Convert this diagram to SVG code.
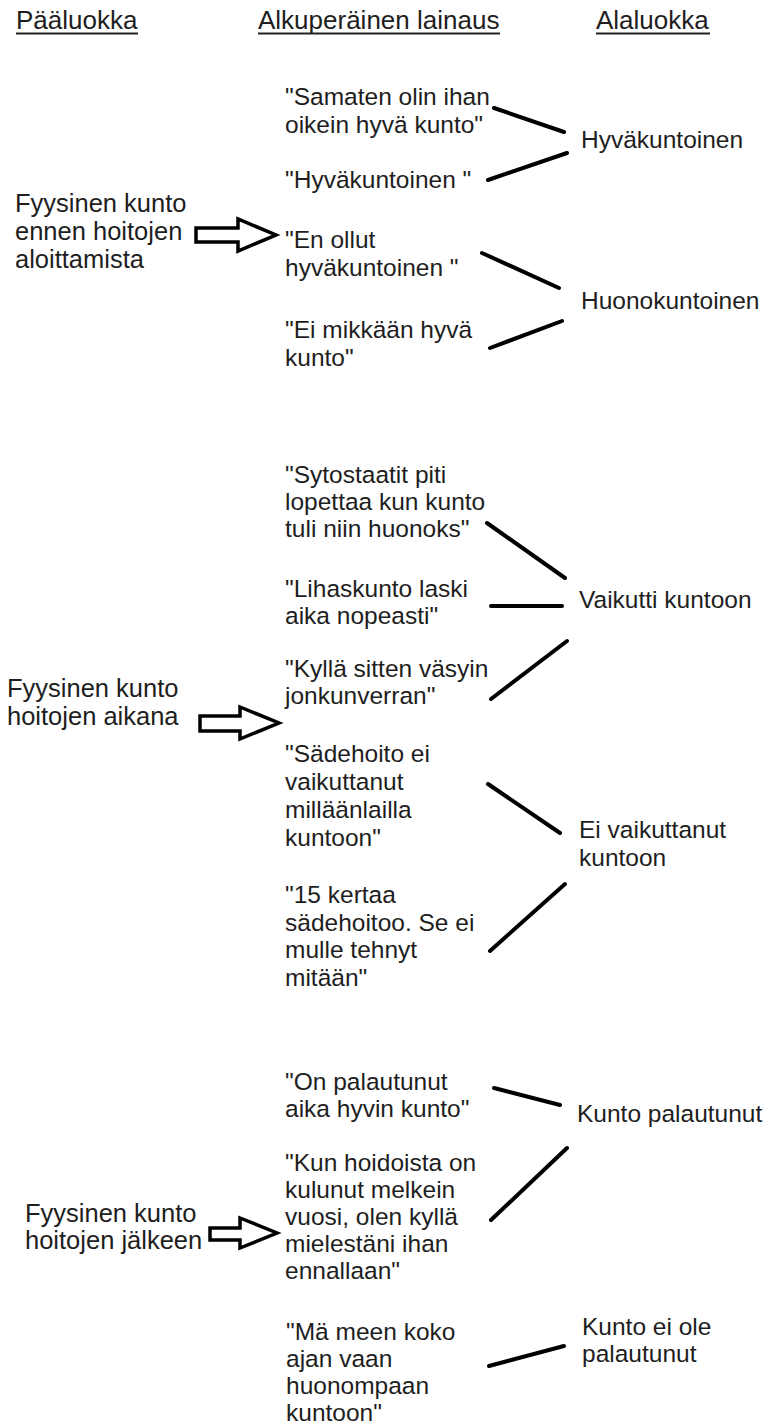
<svg xmlns="http://www.w3.org/2000/svg" width="763" height="1425" viewBox="0 0 763 1425">
<style>
text{font-family:"Liberation Sans",Arial,sans-serif;font-size:24.5px;fill:#1e1e1e}
.hd{font-size:26px}
.mn{font-size:25.5px}
.ul{stroke:#222;stroke-width:2.2}
.ln{stroke:#000;stroke-width:4;stroke-linecap:round}
.ar{fill:#fff;stroke:#000;stroke-width:3.5;stroke-linejoin:miter}
</style>
<rect width="763" height="1425" fill="#fff"/>
<g id="headers">
<text class="hd" x="16" y="29">Pääluokka</text>
<line class="ul" x1="16" y1="33.5" x2="138" y2="33.5"/>
<text class="hd" x="258" y="29">Alkuperäinen lainaus</text>
<line class="ul" x1="258" y1="33.5" x2="500" y2="33.5"/>
<text class="hd" x="596" y="29">Alaluokka</text>
<line class="ul" x1="596" y1="33.5" x2="710" y2="33.5"/>
</g>
<g id="main1"><text class="mn" x="15" y="212">Fyysinen kunto<tspan x="15" dy="28">ennen hoitojen</tspan><tspan x="15" dy="28">aloittamista</tspan></text></g>
<g id="arrow1"><polygon class="ar" points="196,228 238,228 238,219 276,235 238,251 238,242 196,242"/></g>
<g id="q1"><text x="285" y="105">"Samaten olin ihan<tspan x="285" dy="28">oikein hyvä kunto"</tspan></text></g>
<g id="q2"><text x="285" y="188">"Hyväkuntoinen "</text></g>
<g id="q3"><text x="285" y="248">"En ollut<tspan x="285" dy="28">hyväkuntoinen "</tspan></text></g>
<g id="q4"><text x="285" y="338">"Ei mikkään hyvä<tspan x="285" dy="28">kunto"</tspan></text></g>
<g id="s1"><text x="581" y="148">Hyväkuntoinen</text></g>
<g id="s2"><text x="581" y="309">Huonokuntoinen</text></g>

<g id="main2"><text class="mn" x="7" y="697">Fyysinen kunto<tspan x="7" dy="28">hoitojen aikana</tspan></text></g>
<g id="arrow2"><polygon class="ar" points="200,716 240,716 240,707 279,723 240,739 240,731 200,731"/></g>
<g id="q5"><text x="285" y="483">"Sytostaatit piti<tspan x="285" dy="27">lopettaa kun kunto</tspan><tspan x="285" dy="27">tuli niin huonoks"</tspan></text></g>
<g id="q6"><text x="285" y="597">"Lihaskunto laski<tspan x="285" dy="27">aika nopeasti"</tspan></text></g>
<g id="q7"><text x="285" y="677">"Kyllä sitten väsyin<tspan x="285" dy="27">jonkunverran"</tspan></text></g>
<g id="q8"><text x="285" y="762">"Sädehoito ei<tspan x="285" dy="28">vaikuttanut</tspan><tspan x="285" dy="28">milläänlailla</tspan><tspan x="285" dy="28">kuntoon"</tspan></text></g>
<g id="q9"><text x="285" y="903">"15 kertaa<tspan x="285" dy="27.5">sädehoitoo. Se ei</tspan><tspan x="285" dy="27.5">mulle tehnyt</tspan><tspan x="285" dy="27.5">mitään"</tspan></text></g>
<g id="s3"><text x="579" y="608">Vaikutti kuntoon</text></g>
<g id="s4"><text x="579" y="838">Ei vaikuttanut<tspan x="579" dy="28">kuntoon</tspan></text></g>

<g id="main3"><text class="mn" x="25" y="1222">Fyysinen kunto<tspan x="25" dy="27">hoitojen jälkeen</tspan></text></g>
<g id="arrow3"><polygon class="ar" points="210,1228 240,1228 240,1218 277,1233 240,1248 240,1240 210,1240"/></g>
<g id="q10"><text x="285" y="1090">"On palautunut<tspan x="285" dy="27">aika hyvin kunto"</tspan></text></g>
<g id="q11"><text x="285" y="1171">"Kun hoidoista on<tspan x="285" dy="27">kulunut melkein</tspan><tspan x="285" dy="27">vuosi, olen kyllä</tspan><tspan x="285" dy="27">mielestäni ihan</tspan><tspan x="285" dy="27">ennallaan"</tspan></text></g>
<g id="q12"><text x="286" y="1340">"Mä meen koko<tspan x="286" dy="27">ajan vaan</tspan><tspan x="286" dy="27">huonompaan</tspan><tspan x="286" dy="27">kuntoon"</tspan></text></g>
<g id="s5"><text x="577" y="1122">Kunto palautunut</text></g>
<g id="s6"><text x="582" y="1335">Kunto ei ole<tspan x="582" dy="27">palautunut</tspan></text></g>

<g id="connectors">
<line class="ln" x1="494" y1="108" x2="564" y2="132"/>
<line class="ln" x1="488" y1="180" x2="567" y2="153"/>
<line class="ln" x1="482" y1="253" x2="559" y2="288"/>
<line class="ln" x1="490" y1="348" x2="562" y2="321"/>
<line class="ln" x1="487" y1="523" x2="565" y2="578"/>
<line class="ln" x1="491" y1="606" x2="562" y2="606"/>
<line class="ln" x1="491" y1="699" x2="567" y2="641"/>
<line class="ln" x1="488" y1="784" x2="560" y2="833"/>
<line class="ln" x1="490" y1="951" x2="565" y2="884"/>
<line class="ln" x1="494" y1="1088" x2="560" y2="1105"/>
<line class="ln" x1="491" y1="1220" x2="567" y2="1148"/>
<line class="ln" x1="489" y1="1366" x2="564" y2="1346"/>
</g>
</svg>
